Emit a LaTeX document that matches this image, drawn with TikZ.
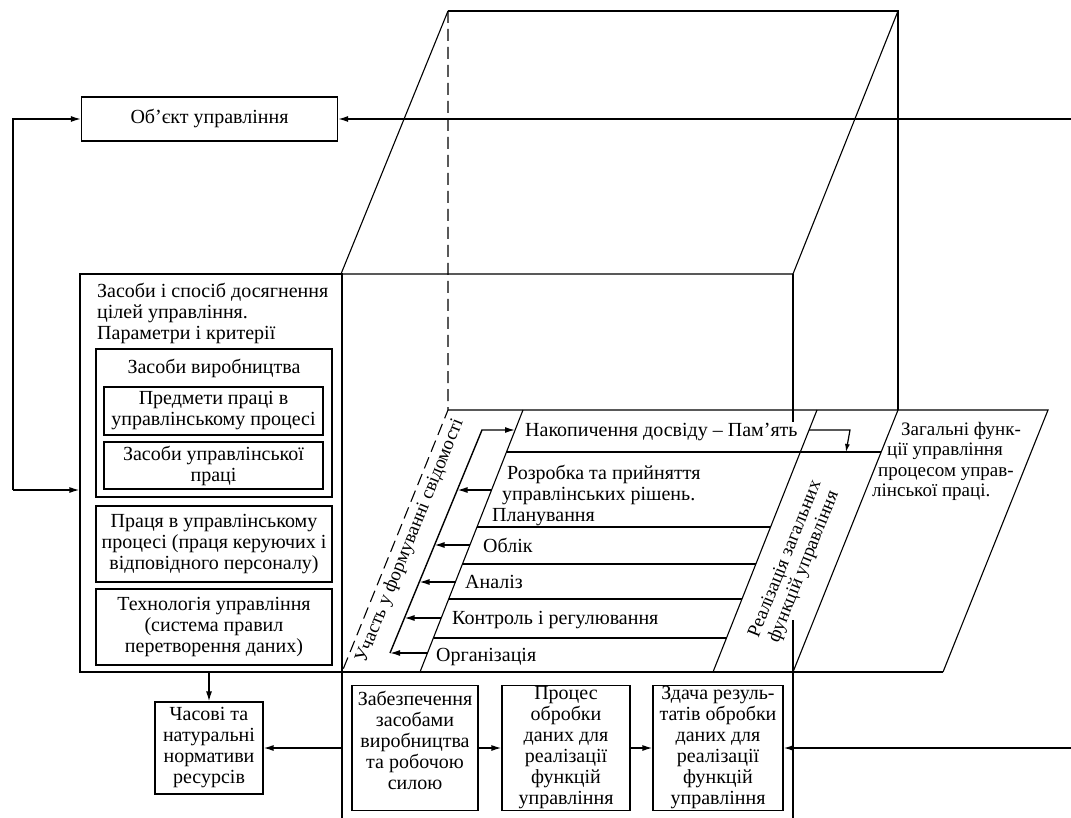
\documentclass[tikz,border=0pt]{standalone}
\usepackage{fontspec}
\setmainfont{Liberation Serif}
\usetikzlibrary{arrows.meta}

\tikzset{
    blk/.style={draw, line width=1.2pt, align=center, inner sep=1pt},
    txt/.style={inner sep=0pt, align=left},
    arr/.style={line width=1.4pt, -{Latex[length=10pt,width=6pt]}},
    ln/.style={line width=1.1pt},
}

\begin{document}
\begin{tikzpicture}[x=1pt, y=-1pt, font=\fontsize{20}{21}\selectfont]
        \useasboundingbox (0,0) rectangle (1071,818);

        % cube
        \draw[ln] (448,11) -- (898,11) -- (898,410);
        \draw[ln] (448,11) -- (341,274) -- (793,274) -- (898,11);
        \draw[ln, dash pattern=on 12pt off 6pt] (448,11) -- (448,410) -- (342,672);
        \draw[ln] (793,274) -- (793,422);
        \draw[ln] (793,620) -- (793,818);
        \draw[ln] (342,672) -- (342,818);
        \draw[ln] (448,410) -- (1048,410) -- (943,672);
        \draw[ln] (898,410) -- (793,672);
        \draw[ln] (80,672) -- (943,672);

        % rows of the bottom face
        \draw[ln] (523,410) -- (420,672);
        \draw[ln] (817,410) -- (713,672);
        \draw[ln] (506.5,452) -- (881,452);
        \draw[ln] (477,527) -- (770.5,527);
        \draw[ln] (462.5,564) -- (756,564);
        \draw[ln] (448.5,599) -- (742,599);
        \draw[ln] (433.5,638) -- (726.5,638);

        % left block
        \node[blk, minimum width=262pt, minimum height=398pt] (means) at (211,473) {};
        \node[txt, anchor=north west] (meanst) at (97,283) {Засоби і спосіб досягнення\\цілей управління.\\Параметри і критерії};
        \node[blk, minimum width=236pt, minimum height=148pt] (prod) at (214,423) {};
        \node[inner sep=0pt] (prodt) at (214,368) {Засоби виробництва};
        \node[blk, minimum width=219pt, minimum height=48pt] (subj) at (213.5,411) {Предмети праці в\\управлінському процесі};
        \node[blk, minimum width=219pt, minimum height=47pt] (tools) at (213.5,465.5) {Засоби управлінської\\праці};
        \node[blk, minimum width=236pt, minimum height=76pt] (labour) at (214,544) {Праця в управлінському\\процесі (праця керуючих і\\відповідного персоналу)};
        \node[blk, minimum width=236pt, minimum height=76pt] (tech) at (214,627) {Технологія управління\\(система правил\\перетворення даних)};

        \node[blk, minimum width=256pt, minimum height=44pt] (obj) at (209.5,119) {Об’єкт управління};

        % bottom blocks
        \node[blk, minimum width=108pt, minimum height=92pt] (norm) at (209,748) {Часові та\\натуральні\\нормативи\\ресурсів};
        \node[blk, minimum width=126pt, minimum height=125pt] (supply) at (415,748) {Забезпечення\\засобами\\виробництва\\та робочою\\силою\\[-5pt]\mbox{}};
        \node[blk, minimum width=128pt, minimum height=125pt] (proc) at (566,748) {Процес\\обробки\\даних для\\реалізації\\функцій\\управління};
        \node[blk, minimum width=130pt, minimum height=125pt] (hand) at (718,748) {Здача резуль-\\татів обробки\\даних для\\реалізації\\функцій\\управління};

        % texts on the bottom face
        \node[txt, anchor=base west] (accu) at (525,436) {Накопичення досвіду – Пам’ять};
        \node[txt, anchor=north west] (plan) at (492,465) {\hspace*{15pt}Розробка та прийняття\\\hspace*{10pt}управлінських рішень.\\Планування};
        \node[txt, anchor=base west] (acct) at (483,552) {Облік};
        \node[txt, anchor=base west] (anal) at (465,588) {Аналіз};
        \node[txt, anchor=base west] (ctrl) at (452,624) {Контроль і регулювання};
        \node[txt, anchor=base west] (org) at (436,661) {Організація};
        \node[txt, anchor=north west, font=\fontsize{19}{20.5}\selectfont] (gen) at (872,422) {\hspace*{29pt}Загальні функ-\\\hspace*{15pt}ції управління\\\hspace*{6pt}процесом управ-\\лінської праці.};
        \node[txt, rotate=68, font=\fontsize{19}{20}\selectfont] (part) at (410,541) {Участь у формуванні свідомості};
        \node[txt, rotate=68, align=center, font=\fontsize{19}{20}\selectfont] (real) at (795,563) {Реалізація загальних\\функцій управління};

        % connectors
        \coordinate (fbt) at (13,119);
        \coordinate (fbb) at (13,490);
        \coordinate (rtop) at (1071,119);
        \coordinate (rbot) at (1071,748);
        \coordinate (bl) at (342,748);
        \draw[arr] (fbb) -- (fbt) -- (obj.west);
        \draw[arr] (fbb) -- (means.west |- fbb);
        \draw[arr] (rtop) -- (obj.east);
        \draw[arr] (rbot) -- (hand.east);
        \draw[arr] (supply) -- (proc);
        \draw[arr] (proc) -- (hand);
        \draw[arr] (bl) -- (norm.east);
        \draw[arr] (norm.north |- means.south) -- (norm.north);

        % collector of the rows
        \coordinate (colb) at (390,653);
        \coordinate (colt) at (482,430);
        \coordinate (acc) at (515,430);
        \draw[arr] (colb) -- (colt) -- (acc);
        \draw[arr] (491.5,490) -- (457.5,490);
        \draw[arr] (470,545) -- (434.5,545);
        \draw[arr] (455.5,582) -- (419.5,582);
        \draw[arr] (441,618) -- (404.5,618);
        \draw[arr] (427.5,653) -- (390,653);

        % memory
        \coordinate (mem) at (809,430);
        \draw[line width=1.2pt, -{Latex[length=8pt,width=5pt]}] (mem) -- (850,430) -- (846,452);
    \end{tikzpicture}
\end{document}
